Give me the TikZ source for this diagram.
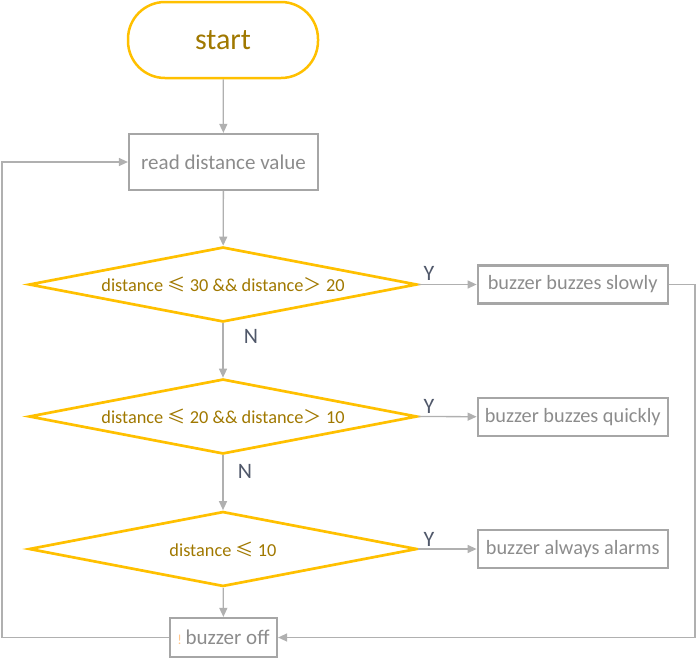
\documentclass[tikz,border=0pt]{standalone}
\usepackage{fontspec}
\setmainfont{Carlito}
\newfontfamily\cjk{Noto Sans CJK SC}
\usetikzlibrary{shapes.geometric,arrows.meta}
\definecolor{gold}{HTML}{FFC000}
\definecolor{goldtext}{HTML}{A07800}
\definecolor{boxline}{HTML}{A6A6A6}
\definecolor{boxtext}{HTML}{8C8C8C}
\definecolor{connline}{HTML}{B0B0B0}
\definecolor{yntext}{HTML}{50586A}
\tikzset{
  term/.style={draw=gold, line width=2.5pt, rounded corners=37pt, minimum width=190pt, minimum height=76pt, inner sep=0pt, text=goldtext, font=\fontsize{30}{30}\selectfont},
  procbox/.style={draw=boxline, line width=2.2pt, minimum width=189pt, minimum height=56pt, inner sep=0pt, text=boxtext, font=\fontsize{21}{21}\selectfont},
  outbox/.style={draw=boxline, line width=2.2pt, minimum width=190pt, minimum height=38pt, inner sep=0pt, text=boxtext, font=\fontsize{20.3}{20.3}\selectfont},
  decision/.style={diamond, shape aspect=5.17, draw=gold, line width=2.7pt, minimum width=388pt, minimum height=75pt, inner sep=0pt, text=goldtext, font=\fontsize{18.3}{18.3}\selectfont},
  conn/.style={draw=connline, line width=1.3pt, -{Triangle[length=9pt,width=8pt]}},
  yn/.style={text=yntext, font=\fontsize{22}{22}\selectfont, inner sep=0pt}
}
\begin{document}
\begin{tikzpicture}[x=1pt,y=-1pt]
\useasboundingbox (0,0) rectangle (697,659);
\node[term] (start) at (223,40) {start};
\node[procbox] (read) at (223.5,162) {read distance value};
\node[decision] (d1) at (223,284.5) {distance {\cjk ≤} 30 \&\& distance{\cjk ＞} 20};
\node[decision] (d2) at (223,416.5) {distance {\cjk ≤} 20 \&\& distance{\cjk ＞} 10};
\node[decision] (d3) at (223,549) {distance {\cjk ≤} 10};
\node[outbox] (b1) at (572.7,284.5) {buzzer buzzes slowly};
\node[outbox] (b2) at (572.7,416.7) {buzzer buzzes quickly};
\node[outbox] (b3) at (572.7,549) {buzzer always alarms};
\node[procbox, minimum width=107pt, minimum height=39pt] (off) at (223.5,637.5) {{\color{orange!45}\fontsize{14}{14}\selectfont!}\,buzzer off};
\coordinate (lc) at (2,637.5);
\coordinate (rc) at (695,284.5);
\draw[conn] (start) -- (read);
\draw[conn] (read) -- (d1);
\draw[conn] (d1) -- (d2);
\draw[conn] (d2) -- (d3);
\draw[conn] (d3) -- (off);
\draw[conn] (d1.east) -- (b1.west);
\draw[conn] (d2.east) -- (b2.west);
\draw[conn] (d3.east) -- (b3.west);
\draw[conn] (off.west) -- (lc) |- (read.west);
\draw[conn] (b1.east) -- (rc) |- (off.east);
\node[yn] (n1) at (251,336) {N};
\node[yn] (n2) at (245,471) {N};
\node[yn] (y1) at (429,273) {Y};
\node[yn] (y2) at (429,406) {Y};
\node[yn] (y3) at (429,539) {Y};
\end{tikzpicture}
\end{document}
